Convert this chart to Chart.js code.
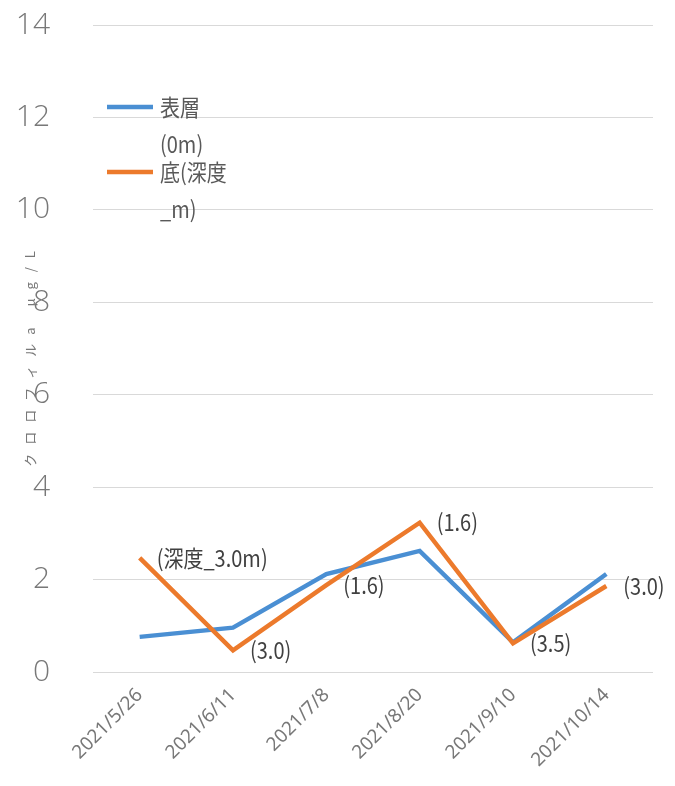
<!DOCTYPE html>
<html lang="ja">
<head>
<meta charset="utf-8">
<title>クロロフィルa</title>
<script src="https://cdn.jsdelivr.net/npm/chart.js@4.4.1/dist/chart.umd.min.js"></script>
<style>
    html, body { margin: 0; padding: 0; background: #ffffff; }
    #wrap { width: 675px; height: 786px; position: relative; }
</style>
</head>
<body>
<div id="wrap"><canvas id="chlChart"></canvas></div>
<script>
// =====================================================================
// Chlorophyll-a, surface vs bottom layer
// =====================================================================

const sampleDates = ["2021/5/26", "2021/6/11", "2021/7/8", "2021/8/20", "2021/9/10", "2021/10/14"];
const surfaceValues = [0.76, 0.96, 2.12, 2.62, 0.64, 2.12];
const bottomValues = [2.47, 0.47, 1.88, 3.23, 0.62, 1.86];
// sampling depth written next to each bottom-layer point
const bottomDepths = ["(深度_3.0m)", "(3.0)", "(1.6)", "(1.6)", "(3.5)", "(3.0)"];
const yTicks = [0, 2, 4, 6, 8, 10, 12, 14];

const seriesNames = ["表層(0m)", "底(深度_m)"];
const legendLines = [["表層", "(0m)"], ["底(深度", "_m)"]];
const yTitle = "クロロフィルa μg/L";

const BLUE = "#4a8fd3";
const ORANGE = "#ec7a2c";
const GREY_TEXT = "#787878";
const LABEL_FONT = "\"Noto Sans CJK JP\", \"Noto Sans\", sans-serif";
const TEXT_STRETCH = 1.15;   // labels are a little taller than wide

// draw a line of text stretched vertically around its own anchor
function drawTallText(ctx, text, x, y) {
    ctx.save();
    ctx.translate(x, y);
    ctx.scale(1, TEXT_STRETCH);
    ctx.fillText(text, 0, 0);
    ctx.restore();
}

// ----- depth labels to the right of each bottom-layer point -----
const depthLabelPlugin = {
    id: "depthLabels",
    afterDatasetsDraw(chart) {
        const meta = chart.getDatasetMeta(1);
        const ctx = chart.ctx;
        ctx.save();
        ctx.font = "20px " + LABEL_FONT;
        ctx.fillStyle = "#404040";
        ctx.textAlign = "left";
        ctx.textBaseline = "middle";
        meta.data.forEach(function (pt, i) {
            drawTallText(ctx, bottomDepths[i], pt.x + 17, pt.y);
        });
        ctx.restore();
    }
};

// ----- legend sits inside the plot, labels wrap onto two lines -----
const boxLegendPlugin = {
    id: "boxLegend",
    afterDraw(chart) {
        const ctx = chart.ctx;
        const colors = [BLUE, ORANGE];
        const x0 = chart.chartArea.left + 14;
        ctx.save();
        ctx.font = "20px " + LABEL_FONT;
        ctx.fillStyle = "#595959";
        ctx.textAlign = "left";
        ctx.textBaseline = "middle";
        legendLines.forEach(function (lines, i) {
            const y = chart.chartArea.top + 82 + i * 65;
            ctx.strokeStyle = colors[i];
            ctx.lineWidth = 4.5;
            ctx.beginPath();
            ctx.moveTo(x0, y);
            ctx.lineTo(x0 + 46, y);
            ctx.stroke();
            lines.forEach(function (t, j) {
                drawTallText(ctx, t, x0 + 53, y + j * 37);
            });
        });
        ctx.restore();
    }
};

// ----- rotated y title, drawn over the tick column -----
const yTitlePlugin = {
    id: "yTitle",
    afterDraw(chart) {
        const ctx = chart.ctx;
        const a = chart.chartArea;
        ctx.save();
        ctx.translate(30, (a.top + a.bottom) / 2 + 6);
        ctx.rotate(-Math.PI / 2);
        ctx.font = "13px " + LABEL_FONT;
        ctx.fillStyle = GREY_TEXT;
        ctx.textAlign = "center";
        ctx.textBaseline = "middle";
        ctx.letterSpacing = "9px";
        ctx.fillText(yTitle, 0, 0);
        ctx.restore();
    }
};

new Chart(document.getElementById("chlChart"), {
    type: "line",
    data: {
        labels: sampleDates,
        datasets: [
            { label: seriesNames[0], data: surfaceValues, borderColor: BLUE,
              borderWidth: 4.5, pointRadius: 0, tension: 0, fill: false, order: 1 },
            { label: seriesNames[1], data: bottomValues, borderColor: ORANGE,
              borderWidth: 4.5, pointRadius: 0, tension: 0, fill: false, order: 0 }
        ]
    },
    options: {
        responsive: true,
        maintainAspectRatio: false,
        animation: false,
        layout: { padding: { left: 0, right: 22, top: 25, bottom: 4 } },
        plugins: {
            legend: { display: false },
            tooltip: { enabled: false }
        },
        scales: {
            x: {
                offset: true,
                grid: { display: false },
                border: { display: false },
                ticks: {
                    color: GREY_TEXT,
                    font: { family: "\"Noto Sans\", sans-serif", size: 19 },
                    minRotation: 45,
                    maxRotation: 45,
                    padding: 4
                },
                afterFit(scale) { scale.height = 110; }
            },
            y: {
                min: 0,
                max: 14,
                grid: { color: "#d9d9d9", lineWidth: 1, drawTicks: false },
                border: { display: false },
                afterBuildTicks(scale) {
                    scale.ticks = yTicks.map(v => ({ value: v }));
                },
                ticks: {
                    color: GREY_TEXT,
                    font: { family: "\"Open Sans\", sans-serif", size: 30, weight: 300 },
                    padding: 43
                },
                // the wide tick padding would otherwise push the plot down
                afterFit(scale) {
                    scale.width = 93;
                    scale.paddingTop = 0;
                    scale.paddingBottom = 0;
                }
            }
        }
    },
    plugins: [depthLabelPlugin, boxLegendPlugin, yTitlePlugin]
});
</script>
</body>
</html>
